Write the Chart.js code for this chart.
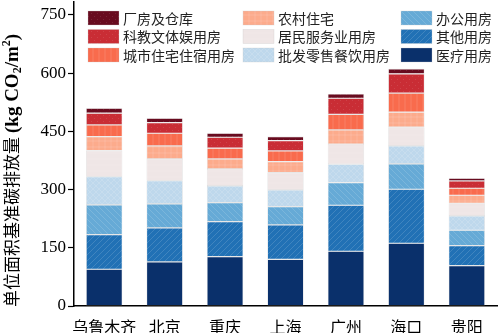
<!DOCTYPE html>
<html>
<head>
<meta charset="utf-8">
<script src="https://cdn.jsdelivr.net/npm/chart.js@4.4.1/dist/chart.umd.min.js"></script>
<style>
  html, body { margin: 0; padding: 0; background: #fff; }
  #chart { display: block; }
</style>
</head>
<body>
<canvas id="chart" width="503" height="333"></canvas>
<script>
// 城市
const cities = ["乌鲁木齐", "北京", "重庆", "上海", "广州", "海口", "贵阳"];

// 各类建筑单位面积碳排放 (kg CO2/m2)，自下而上堆叠
const yiliao   = [94.6, 113.4, 127.0, 120.3, 141.0, 161.6, 103.9];
const qita     = [89.1, 87.6, 90.2, 88.4, 118.5, 139.1, 51.5];
const bangong  = [76.6, 61.9, 49.0, 47.2, 58.3, 65.2, 39.7];
const pifa     = [72.9, 60.0, 43.0, 43.0, 47.4, 46.4, 36.8];
const jumin    = [67.0, 55.9, 43.8, 44.6, 52.1, 48.2, 32.8];
const nongcun  = [36.1, 33.5, 25.8, 28.4, 36.1, 38.7, 20.6];
const chengshi = [30.2, 32.7, 27.6, 27.5, 40.4, 49.1, 18.0];
const kejiao   = [30.1, 27.4, 28.3, 26.6, 41.3, 49.8, 18.8];
const changfang = [12.9, 11.3, 10.3, 10.3, 11.1, 12.8, 7.0];

const yTicks = [0, 150, 300, 450, 600, 750];

// 填充纹理
function makePattern(base, kind) {
    const s = 6;
    const c = document.createElement("canvas");
    c.width = s; c.height = s;
    const g = c.getContext("2d");
    g.fillStyle = base;
    g.fillRect(0, 0, s, s);
    g.strokeStyle = "rgba(255,255,255,0.18)";
    g.fillStyle = "rgba(255,255,255,0.1)";
    g.lineWidth = 0.8;
    g.beginPath();
    if (kind === "slash") {
        g.moveTo(0, s); g.lineTo(s, 0);
        g.moveTo(-1, 1); g.lineTo(1, -1);
        g.moveTo(s - 1, s + 1); g.lineTo(s + 1, s - 1);
    } else if (kind === "back") {
        g.moveTo(0, 0); g.lineTo(s, s);
        g.moveTo(s - 1, -1); g.lineTo(s + 1, 1);
        g.moveTo(-1, s - 1); g.lineTo(1, s + 1);
    } else if (kind === "cross") {
        g.moveTo(0, s); g.lineTo(s, 0);
        g.moveTo(0, 0); g.lineTo(s, s);
    } else if (kind === "horiz") {
        g.moveTo(0, 3); g.lineTo(s, 3);
    } else if (kind === "grid") {
        g.moveTo(0, 3); g.lineTo(s, 3);
        g.moveTo(3, 0); g.lineTo(3, s);
    } else if (kind === "vert") {
        g.moveTo(3, 0); g.lineTo(3, s);
    } else if (kind === "dots") {
        g.fillRect(1, 1, 1, 1);
        g.fillRect(4, 4, 1, 1);
    }
    g.stroke();
    return g.createPattern(c, "repeat");
}

const series = [
    { label: "医疗用房", data: yiliao, color: "#0a306b", kind: "none" },
    { label: "其他用房", data: qita, color: "#2171b5", kind: "slash" },
    { label: "办公用房", data: bangong, color: "#66aad6", kind: "back" },
    { label: "批发零售餐饮用房", data: pifa, color: "#bed8ec", kind: "cross" },
    { label: "居民服务业用房", data: jumin, color: "#efe6e6", kind: "horiz" },
    { label: "农村住宅", data: nongcun, color: "#fcab8c", kind: "grid" },
    { label: "城市住宅住宿用房", data: chengshi, color: "#f96b4d", kind: "vert" },
    { label: "科教文体娱用房", data: kejiao, color: "#c92d35", kind: "dots" },
    { label: "厂房及仓库", data: changfang, color: "#680b1f", kind: "dots" }
];

// 图例：三列，每列三项
const legendCols = [
    ["厂房及仓库", "科教文体娱用房", "城市住宅住宿用房"],
    ["农村住宅", "居民服务业用房", "批发零售餐饮用房"],
    ["办公用房", "其他用房", "医疗用房"]
];

const legendPlugin = {
    id: "gridLegend",
    afterDraw(chart) {
        const ctx = chart.ctx;
        const colX = [88, 243, 401];
        const rowY = [11, 29.5, 48];
        ctx.save();
        ctx.font = "14px 'Noto Sans CJK SC'";
        ctx.textBaseline = "middle";
        ctx.textAlign = "left";
        legendCols.forEach((col, ci) => {
            col.forEach((name, ri) => {
                const ds = chart.data.datasets.find(d => d.label === name);
                const x = colX[ci], y = rowY[ri];
                ctx.fillStyle = ds.backgroundColor;
                ctx.fillRect(x, y, 31, 14);
                ctx.strokeStyle = "rgba(200,200,200,0.6)";
                ctx.lineWidth = 0.5;
                ctx.strokeRect(x, y, 31, 14);
                ctx.fillStyle = "#222";
                ctx.fillText(name, x + 35, y + 7.5);
            });
        });
        ctx.restore();
    }
};

// 纵轴标题（中文常规 + 单位加粗）
const yTitlePlugin = {
    id: "yTitle",
    afterDraw(chart) {
        const ctx = chart.ctx;
        ctx.save();
        ctx.translate(12, 307);
        ctx.rotate(-Math.PI / 2);
        ctx.textBaseline = "middle";
        ctx.textAlign = "left";
        ctx.fillStyle = "#000";
        let x = 0;
        ctx.font = "17px 'Noto Sans CJK SC'";
        ctx.fillText("单位面积基准碳排放量", x, 0);
        x += ctx.measureText("单位面积基准碳排放量").width + 4;
        const parts = [
            { t: "(kg CO", f: "bold 19px 'Liberation Serif'", dy: 0 },
            { t: "2", f: "bold 12px 'Liberation Serif'", dy: 5 },
            { t: "/m", f: "bold 19px 'Liberation Serif'", dy: 0 },
            { t: "2", f: "bold 12px 'Liberation Serif'", dy: -6 },
            { t: ")", f: "bold 19px 'Liberation Serif'", dy: 0 }
        ];
        parts.forEach(p => {
            ctx.font = p.f;
            ctx.fillText(p.t, x, p.dy + 1);
            x += ctx.measureText(p.t).width;
        });
        ctx.restore();
    }
};

new Chart(document.getElementById("chart"), {
    type: "bar",
    data: {
        labels: cities,
        datasets: series.map(s => ({
            label: s.label,
            data: s.data,
            backgroundColor: s.kind === "none" ? s.color : makePattern(s.color, s.kind),
            borderColor: "rgba(190,190,190,0.55)",
            borderWidth: 0.6,
            borderSkipped: false,
            barPercentage: 0.6,
            categoryPercentage: 1.0
        }))
    },
    options: {
        responsive: false,
        animation: false,
        layout: { padding: { top: 2, right: 6, left: 0, bottom: 0 } },
        plugins: {
            legend: { display: false },
            tooltip: { enabled: false }
        },
        scales: {
            x: {
                stacked: true,
                grid: { display: false },
                border: { color: "#000", width: 1.5 },
                ticks: {
                    color: "#000",
                    padding: 3,
                    maxRotation: 0,
                    minRotation: 0,
                    autoSkip: false,
                    font: { family: "'Noto Sans CJK SC'", size: 16 }
                },
                afterFit(scale) {
                    scale.height = 27;
                    scale.paddingLeft = 0;
                    scale.paddingRight = 0;
                }
            },
            y: {
                stacked: true,
                min: 0,
                max: 783,
                afterBuildTicks(scale) {
                    scale.ticks = yTicks.map(v => ({ value: v }));
                },
                grid: {
                    drawOnChartArea: false,
                    tickLength: 6,
                    color: "#000",
                    tickWidth: 1.2
                },
                border: { color: "#000", width: 1.5 },
                ticks: {
                    color: "#000",
                    padding: 2,
                    font: { family: "'Liberation Serif'", size: 17 }
                },
                afterFit(scale) {
                    scale.width = 74;
                    scale.paddingTop = 0;
                    scale.paddingBottom = 0;
                }
            }
        }
    },
    plugins: [legendPlugin, yTitlePlugin]
});
</script>
</body>
</html>
